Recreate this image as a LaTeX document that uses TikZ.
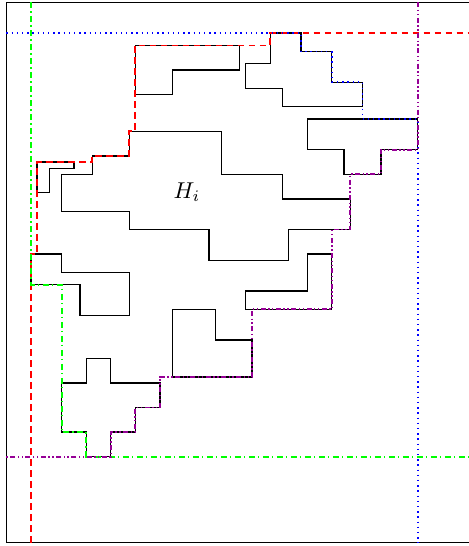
\documentclass[tikz,border=0pt]{standalone}
\usepackage{amsmath,amssymb}
\usepackage[dvipsnames]{xcolor}
\usepackage{tikz}
\usetikzlibrary{calc}

\definecolor{hullpurple}{RGB}{150,0,150}
\definecolor{hullgreen}{RGB}{0,255,0}

\begin{document}
\begin{tikzpicture}
  [
    x=6.138bp, y=-6.138bp,
    cell/.style   = {draw, line width=1.3bp, line join=miter},
    frame/.style  = {draw, line width=1.5bp},
    hullnw/.style = {draw=red, line width=1.8bp, dash pattern=on 6.5bp off 4.5bp},
    hullne/.style = {draw=blue, line width=1.8bp, dash pattern=on 1.4bp off 3.8bp},
    hullsw/.style = {draw=hullgreen, line width=1.8bp,
                     dash pattern=on 6bp off 3bp on 1.5bp off 3.5bp},
    hullse/.style = {draw=hullpurple, line width=1.8bp,
                     dash pattern=on 5bp off 2.5bp on 1.4bp off 2.5bp on 1.4bp off 2.5bp},
  ]

  % the frame: cut off on the right
  \useasboundingbox (-0.05,-0.4) rectangle (76.35,88.55);
  \clip (-0.05,-0.4) rectangle (76.35,88.55);
  \draw[frame] (1,0) rectangle (80,88);

  % the polyominoes, corners on the unit grid
  \draw[cell] (22,7) -- (39,7) -- (39,11) -- (28,11) -- (28,15) -- (22,15) -- cycle;
  \draw[cell] (44,5) -- (49,5) -- (49,8) -- (54,8) -- (54,13) -- (59,13) -- (59,17)
    -- (46,17) -- (46,14) -- (40,14) -- (40,10) -- (44,10) -- cycle;
  \draw[cell] (50,19) -- (68,19) -- (68,24) -- (62,24) -- (62,28) -- (56,28)
    -- (56,24) -- (50,24) -- cycle;
  \draw[cell] (6,26) -- (12,26) -- (12,27) -- (8,27) -- (8,31) -- (6,31) -- cycle;
  \draw[cell] (21,21) -- (36,21) -- (36,28) -- (46,28) -- (46,32) -- (57,32)
    -- (57,37) -- (47,37) -- (47,42) -- (34,42) -- (34,37) -- (21,37) -- (21,34)
    -- (10,34) -- (10,28) -- (15,28) -- (15,25) -- (21,25) -- cycle;
  \draw[cell] (5,41) -- (10,41) -- (10,44) -- (21,44) -- (21,51) -- (13,51)
    -- (13,46) -- (5,46) -- cycle;
  \draw[cell] (50,41) -- (54,41) -- (54,50) -- (40,50) -- (40,47) -- (50,47) -- cycle;
  \draw[cell] (28,50) -- (35,50) -- (35,55) -- (41,55) -- (41,61) -- (28,61) -- cycle;
  \draw[cell] (14,58) -- (18,58) -- (18,62) -- (26,62) -- (26,66) -- (22,66)
    -- (22,70) -- (18,70) -- (18,74) -- (14,74) -- (14,70) -- (10,70) -- (10,62)
    -- (14,62) -- cycle;

  % the hole
  \node (hole) at (30.4,30.9) [scale=2.3] {$H_i$};

  % the four staircases round the pieces
  \draw[hullnw] (5,88) -- (5,41) -- (6,41) -- (6,26) -- (15,26) -- (15,25)
    -- (21,25) -- (21,21) -- (22,21) -- (22,7) -- (44,7) -- (44,5) -- (77,5);
  \draw[hullne] (1,5) -- (49,5) -- (49,8) -- (54,8) -- (54,13) -- (59,13)
    -- (59,19) -- (68,19) -- (68,88);
  \draw[hullsw] (5,0) -- (5,46) -- (10,46) -- (10,70) -- (14,70) -- (14,74) -- (77,74);
  \draw[hullse] (68,0) -- (68,24) -- (62,24) -- (62,28) -- (57,28) -- (57,37)
    -- (54,37) -- (54,50) -- (41,50) -- (41,61) -- (26,61) -- (26,66) -- (22,66)
    -- (22,70) -- (18,70) -- (18,74) -- (1,74);
\end{tikzpicture}
\end{document}
